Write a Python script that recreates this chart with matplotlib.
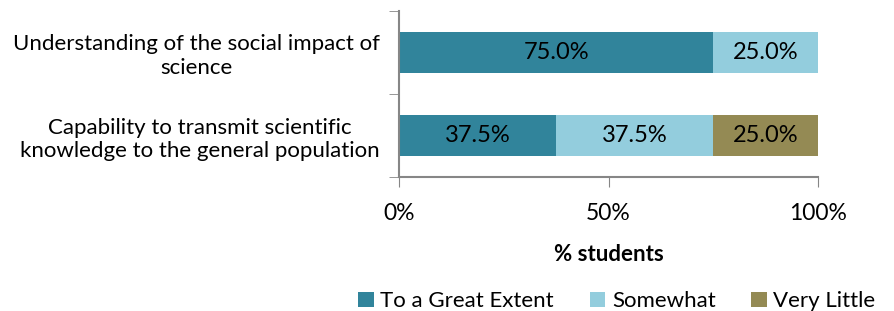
import matplotlib
matplotlib.use("Agg")
import matplotlib.pyplot as plt
from matplotlib.ticker import FixedLocator

categories = ["Understanding of the social impact of\nscience",
              "Capability to transmit scientific\nknowledge to the general population"]
series_names = ["To a Great Extent", "Somewhat", "Very Little"]
great = [75.0, 37.5]
somewhat = [25.0, 37.5]
little = [0.0, 25.0]
colors = ["#31849B", "#93CDDD", "#948A54"]
xticks = [0, 50, 100]
xticklabels = ["0%", "50%", "100%"]

plt.rcParams['font.family'] = ['Lato', 'DejaVu Sans']
fig = plt.figure(figsize=(8.94, 3.11), dpi=100)
ax = fig.add_axes([399/894, 1-177/311, (818-399)/894, (177-11)/311])

ypos = [1, 0]
left = [0, 0]
for name, vals, c in zip(series_names, [great, somewhat, little], colors):
    bars = ax.barh(ypos, vals, left=left, height=0.5, color=c, label=name)
    for y, v, l in zip(ypos, vals, left):
        if v > 0:
            ax.text(l + v/2, y, f"{v:.1f}%", ha='center', va='center', fontsize=17, color='black')
    left = [a + b for a, b in zip(left, vals)]

ax.set_xlim(0, 100)
ax.set_ylim(-0.5, 1.5)
ax.set_xticks(xticks)
ax.set_xticklabels(xticklabels, fontsize=16.5)
ax.set_yticks(ypos)
ax.set_yticklabels(categories, fontsize=16, multialignment='center', linespacing=1.2)
ax.tick_params(axis='y', which='major', length=0, pad=14)
ax.yaxis.set_minor_locator(FixedLocator([-0.5, 0.5, 1.5]))
ax.tick_params(axis='y', which='minor', length=7, color='#868686', direction='out')
ax.tick_params(axis='x', length=7, color='#868686', direction='out', pad=12)
for s in ['top', 'right']:
    ax.spines[s].set_visible(False)
for s in ['left', 'bottom']:
    ax.spines[s].set_color('#868686')
    ax.spines[s].set_linewidth(1.5)
ax.set_xlabel("% students", fontsize=16, fontweight='bold', labelpad=14)

leg = fig.legend(loc='lower center', bbox_to_anchor=(0.690, -0.065), ncol=3, frameon=False,
                 fontsize=16, handlelength=0.7, handleheight=0.7, columnspacing=1.6, handletextpad=0.3)

fig.savefig("out.png", dpi=100)
